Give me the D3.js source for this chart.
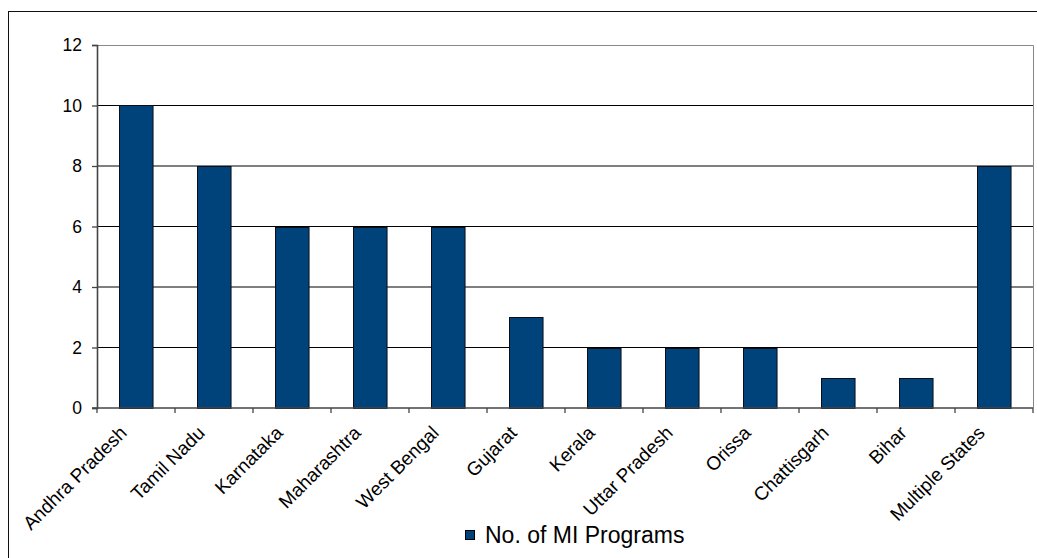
<!DOCTYPE html>
<html lang="en">
<head>
    <meta charset="UTF-8">
    <title>No. of MI Programs by State</title>
    <script src="https://cdnjs.cloudflare.com/ajax/libs/d3/7.8.5/d3.min.js"></script>
    <style>
        body {
            margin: 0;
            background: #fff;
            font-family: Arial, 'Liberation Sans', sans-serif;
        }
        svg text {
            fill: #000;
        }
    </style>
</head>
<body>
    <div id="chart"></div>

    <script>
        // Chart data
        const states = ["Andhra Pradesh", "Tamil Nadu", "Karnataka", "Maharashtra", "West Bengal",
            "Gujarat", "Kerala", "Uttar Pradesh", "Orissa", "Chattisgarh", "Bihar", "Multiple States"];
        const programs = [10, 8, 6, 6, 6, 3, 2, 2, 2, 1, 1, 8];
        const yTicks = [0, 2, 4, 6, 8, 10, 12];
        const seriesName = "No. of MI Programs";

        const width = 1037, height = 558;
        const plot = { left: 97, right: 1033, top: 45, bottom: 408 };

        const svg = d3.select("#chart")
            .append("svg")
            .attr("width", width)
            .attr("height", height);

        // outer chart border (only top and left fall inside the picture)
        svg.append("rect")
            .attr("x", 8.5)
            .attr("y", 11.5)
            .attr("width", 1100)
            .attr("height", 700)
            .attr("fill", "none")
            .attr("stroke", "#111");

        const x = d3.scaleBand()
            .domain(states)
            .range([plot.left, plot.right])
            .paddingInner(0.57)
            .paddingOuter(0.285);

        const y = d3.scaleLinear()
            .domain([0, 12])
            .range([plot.bottom, plot.top]);

        // gridlines
        svg.append("g")
            .selectAll("line")
            .data(yTicks.filter(d => d > 0 && d < 12))
            .join("line")
            .attr("x1", plot.left)
            .attr("x2", plot.right)
            .attr("y1", d => y(d))
            .attr("y2", d => y(d))
            .attr("stroke", "#000")
            .attr("stroke-width", 1);

        // plot area frame (top + right)
        svg.append("path")
            .attr("d", `M${plot.left},${plot.top + 0.5}H${plot.right + 0.5}V${plot.bottom}`)
            .attr("fill", "none")
            .attr("stroke", "#888");

        // bars
        svg.append("g")
            .selectAll("rect")
            .data(programs)
            .join("rect")
            .attr("x", (d, i) => Math.round(x(states[i])) + 0.5)
            .attr("y", d => Math.round(y(d)) + 0.5)
            .attr("width", x.bandwidth())
            .attr("height", d => Math.round(y(0)) - Math.round(y(d)))
            .attr("fill", "#00427a")
            .attr("stroke", "#0a0f1a")
            .attr("stroke-width", 1);

        // y axis
        const yAxis = svg.append("g")
            .attr("transform", `translate(${plot.left},0)`)
            .call(d3.axisLeft(y).tickValues(yTicks).tickSize(5).tickPadding(10));
        yAxis.select(".domain").attr("stroke", "#444").attr("stroke-width", 1.6);
        yAxis.selectAll(".tick line").attr("stroke", "#444").attr("stroke-width", 1.3);
        yAxis.selectAll("text")
            .attr("font-family", "Arial, 'Liberation Sans', sans-serif")
            .attr("font-size", 17.5)
            .attr("fill", "#000");

        // x axis line and boundary ticks
        const xg = svg.append("g");
        xg.append("line")
            .attr("x1", plot.left - 5)
            .attr("x2", plot.right)
            .attr("y1", plot.bottom)
            .attr("y2", plot.bottom)
            .attr("stroke", "#444")
            .attr("stroke-width", 1.6);

        const step = x.step();
        xg.selectAll(".xtick")
            .data(d3.range(states.length + 1))
            .join("line")
            .attr("class", "xtick")
            .attr("x1", i => plot.left + i * step)
            .attr("x2", i => plot.left + i * step)
            .attr("y1", plot.bottom)
            .attr("y2", plot.bottom + 5)
            .attr("stroke", "#444")
            .attr("stroke-width", 1.3);

        // rotated category labels
        xg.selectAll(".xlabel")
            .data(states)
            .join("text")
            .attr("class", "xlabel")
            .attr("font-family", "Arial, 'Liberation Sans', sans-serif")
            .attr("font-size", 19)
            .attr("text-anchor", "end")
            .attr("transform", d => `translate(${x(d) + x.bandwidth() / 2 - 8},${plot.bottom + 26}) rotate(-45)`)
            .text(d => d);

        // legend
        const legend = svg.append("g")
            .attr("transform", "translate(465,530)");
        legend.append("rect")
            .attr("x", 0.5)
            .attr("y", 0.5)
            .attr("width", 9)
            .attr("height", 9)
            .attr("fill", "#00427a")
            .attr("stroke", "#000");
        legend.append("text")
            .attr("x", 20)
            .attr("y", 13)
            .attr("font-family", "Arial, 'Liberation Sans', sans-serif")
            .attr("font-size", 23)
            .text(seriesName);
    </script>
</body>
</html>
